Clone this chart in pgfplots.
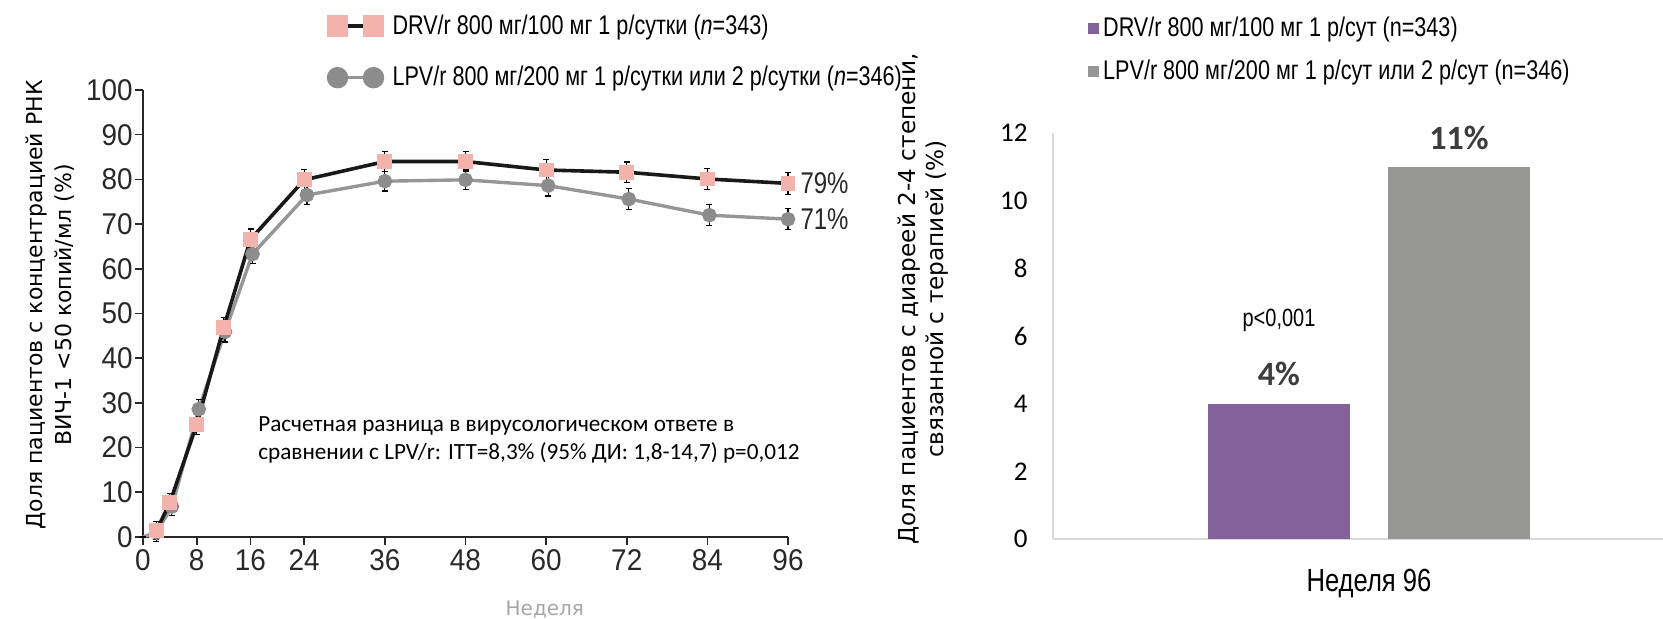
\documentclass[border=0pt]{standalone}
\usepackage{pgfplots}
\pgfplotsset{compat=1.18}
\usepackage{pgfplotstable}
\usepackage{fontspec}
\setmainfont{Liberation Sans}
\newfontfamily\narrow[FakeStretch=0.8]{Liberation Sans}
\newfontfamily\ticks[FakeStretch=0.93]{Liberation Sans}
\newfontfamily\dejavu{DejaVu Sans}
\newfontfamily\carlito{Carlito}
\definecolor{pinkm}{RGB}{244,178,172}
\definecolor{lgray}{RGB}{150,150,150}
\definecolor{mgray}{RGB}{140,140,140}
\definecolor{purp}{RGB}{130,98,152}
\definecolor{bgray}{RGB}{150,150,149}
\definecolor{axgray}{RGB}{217,217,217}
\definecolor{txt}{RGB}{40,40,40}

\pgfplotstableread{
w v e
2 1.4 2.0
4 7.7 2.0
8 25.2 2.2
12 46.8 2.3
16 66.6 2.3
24 79.9 2.3
36 84.0 2.3
48 84.0 2.3
60 82.1 2.3
72 81.6 2.3
84 80.1 2.3
96 79.1 2.4
}\drv
\pgfplotstableread{
w v e
0 0 0
2 1.0 2.0
4.3 6.8 2.0
8.3 28.6 2.2
12.2 45.9 2.3
16.3 63.3 2.2
24.4 76.5 2.2
36 79.6 2.2
48 79.9 2.2
60.3 78.6 2.3
72.3 75.6 2.3
84.3 72.0 2.3
96 71.1 2.3
}\lpv

\begin{document}
\begin{tikzpicture}
\path[use as bounding box] (0,0) rectangle (831.5pt,309.5pt);
% ---------------- left chart
\begin{axis}[
  at={(71.5pt,41pt)}, anchor=south west,
  scale only axis, width=322.5pt, height=223.5pt,
  xmin=0, xmax=96, ymin=0, ymax=100,
  axis x line*=bottom, axis y line*=left,
  axis line style={-, draw=txt, line width=0.8pt},
  x axis line style={shorten <=-4pt},
  tick align=outside, major tick length=4pt,
  tick style={draw=txt, line width=0.8pt},
  xtick={0,8,16,24,36,48,60,72,84,96},
  ytick={0,10,...,100},
  /pgf/number format/assume math mode=true,
  ticklabel style={font=\ticks\fontsize{15}{15}\selectfont, text=txt},
  yticklabel style={inner sep=1pt},
  xticklabel style={inner sep=2pt},
  xlabel={Неделя},
  xlabel style={at={(axis description cs:0.623,-0.163)}, anchor=center, font=\dejavu\fontsize{10}{12}\selectfont, text=gray!70},
  ylabel={Доля пациентов с концентрацией РНК\\ВИЧ-1 <50 копий/мл (\%)},
  ylabel style={at={(axis description cs:-0.144,0.519)}, anchor=center, align=center, font=\dejavu\fontsize{11}{14.5}\selectfont},
  clip=false,
  legend style={at={(axis description cs:0.287,1.178)}, anchor=north west, draw=none, fill=none,
     font=\narrow\fontsize{13.5}{15}\selectfont, row sep=10.5pt, column sep=3pt, inner sep=0pt,
     nodes={inner sep=2pt}},
  legend cell align=left,
  reverse legend,
]
\addplot[lgray, line width=1.7pt, mark=*, mark indices={2,3,...,13},
   mark options={draw=mgray, fill=mgray, solid}, mark size=2.8pt,
   error bars/.cd, y dir=both, y explicit,
   error bar style={black, line width=0.6pt},
   error mark options={black, mark size=1.5pt, line width=0.6pt, rotate=90}]
   table[x=w, y=v, y error=e]{\lpv};
\addlegendentry{LPV/r 800 мг/200 мг 1 р/сутки или 2 р/сутки (\textit{n}=346)}
\addplot[black!90, line width=1.8pt, mark=square*,
   mark options={draw=pinkm, fill=pinkm, solid}, mark size=2.8pt,
   error bars/.cd, y dir=both, y explicit,
   error bar style={black, line width=0.6pt},
   error mark options={black, mark size=1.5pt, line width=0.6pt, rotate=90}]
   table[x=w, y=v, y error=e]{\drv};
\addlegendentry{DRV/r 800 мг/100 мг 1 р/сутки (\textit{n}=343)}
\pgfplotsset{legend image code/.code={%
  \draw[#1, mark indices={1,3}, mark size=4.5pt] plot coordinates {(0pt,0pt) (9pt,0pt) (18pt,0pt)};}}
\node[anchor=west, font=\narrow\fontsize{15}{15}\selectfont, text=txt, inner sep=0pt] at (axis cs:97.8,79.1) {79\%};
\node[anchor=west, font=\narrow\fontsize{15}{15}\selectfont, text=txt, inner sep=0pt] at (axis cs:97.8,71.1) {71\%};
\node[anchor=west, align=left, font=\carlito\fontsize{11.6}{14}\selectfont, inner sep=0pt] at (axis cs:17.1,21.7)
  {Расчетная разница в вирусологическом ответе в\\сравнении с LPV/r: ITT=8,3\% (95\% ДИ: 1,8-14,7) p=0,012};
\end{axis}
% ---------------- right chart
\begin{axis}[
  at={(526.5pt,40pt)}, anchor=south west,
  scale only axis, width=305pt, height=203pt,
  xmin=-0.036, xmax=1.964, ymin=0, ymax=12,
  axis x line*=bottom, axis y line*=left,
  axis line style={-, draw=axgray, line width=0.8pt},
  ybar=19pt, bar width=71pt,
  xtick={1}, xticklabels={Неделя 96},
  ytick={0,2,...,12},
  major tick length=0pt,
  /pgf/number format/assume math mode=true,
  yticklabel style={font=\carlito\fontsize{13.5}{14}\selectfont, anchor=east, inner sep=0pt, xshift=-12.5pt},
  xticklabel style={font=\narrow\fontsize{16}{16}\selectfont, anchor=north, inner sep=0pt, yshift=-15pt},
  ylabel={Доля пациентов с диареей 2-4 степени,\\связанной с терапией (\%)},
  ylabel style={at={(axis description cs:-0.213,0.591)}, anchor=center, align=center, font=\dejavu\fontsize{11.6}{14}\selectfont},
  clip=false,
  legend style={at={(axis description cs:0.057,1.297)}, anchor=north west, draw=none, fill=none,
     font=\narrow\fontsize{13.5}{14.5}\selectfont, row sep=6.5pt, inner sep=0pt, nodes={inner sep=2pt}},
  legend cell align=left,
  legend image code/.code={\fill[#1] (0pt,-2.75pt) rectangle (5.5pt,2.75pt);},
  nodes near coords={\pgfmathprintnumber{\pgfplotspointmeta}\%},
  every node near coord/.append style={font=\carlito\bfseries\fontsize{17}{17}\selectfont, text=txt!90, anchor=south, inner sep=0pt, yshift=8.5pt},
]
\addplot[fill=purp, draw=none] coordinates {(1,4)};
\addlegendentry{DRV/r 800 мг/100 мг 1 р/сут (n=343)}
\addplot[fill=bgray, draw=none] coordinates {(1,11)};
\addlegendentry{LPV/r 800 мг/200 мг 1 р/сут или 2 р/сут (n=346)}
\node[font=\narrow\fontsize{12.5}{12.5}\selectfont, anchor=center] at (axis cs:0.705,6.47) {p<0,001};
\end{axis}
\end{tikzpicture}
\end{document}
